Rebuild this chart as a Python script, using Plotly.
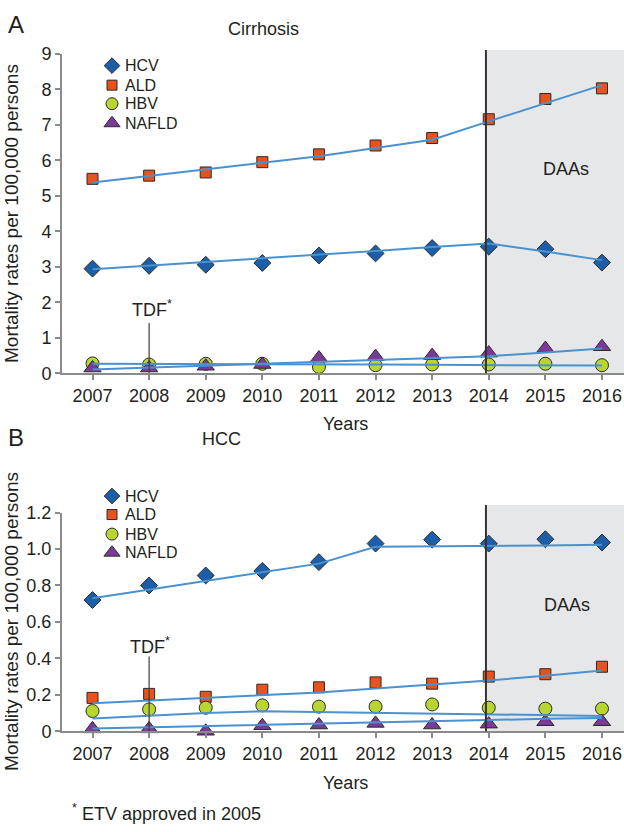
import plotly.graph_objects as go

years = [2007, 2008, 2009, 2010, 2011, 2012, 2013, 2014, 2015, 2016]
series_names = ["HCV", "ALD", "HBV", "NAFLD"]

# Panel A: Cirrhosis (observed rates)
cirr_hcv = [2.95, 3.03, 3.06, 3.11, 3.32, 3.38, 3.53, 3.57, 3.50, 3.12]
cirr_ald = [5.48, 5.57, 5.66, 5.95, 6.17, 6.42, 6.63, 7.16, 7.73, 8.03]
cirr_hbv = [0.28, 0.25, 0.27, 0.27, 0.18, 0.23, 0.25, 0.25, 0.27, 0.23]
cirr_nafld = [0.15, 0.15, 0.20, 0.25, 0.43, 0.47, 0.50, 0.57, 0.70, 0.75]
# Panel A: fitted trend lines
cirr_hcv_trend = [2.93, 3.03, 3.14, 3.24, 3.35, 3.45, 3.56, 3.66, 3.43, 3.19]
cirr_ald_trend = [5.38, 5.57, 5.76, 5.95, 6.12, 6.35, 6.58, 7.10, 7.62, 8.12]
cirr_hbv_trend = [0.27, 0.27, 0.26, 0.26, 0.25, 0.25, 0.24, 0.23, 0.23, 0.22]
cirr_nafld_trend = [0.11, 0.16, 0.21, 0.26, 0.31, 0.36, 0.41, 0.48, 0.59, 0.70]

# Panel B: HCC (observed rates)
hcc_hcv = [0.72, 0.80, 0.855, 0.88, 0.928, 1.03, 1.052, 1.03, 1.054, 1.036]
hcc_ald = [0.183, 0.205, 0.189, 0.228, 0.241, 0.268, 0.261, 0.30, 0.313, 0.354]
hcc_hbv = [0.111, 0.12, 0.129, 0.142, 0.135, 0.135, 0.147, 0.129, 0.124, 0.124]
hcc_nafld = [0.013, 0.013, 0.0, 0.03, 0.034, 0.043, 0.034, 0.039, 0.052, 0.052]
# Panel B: fitted trend lines
hcc_hcv_trend = [0.73, 0.778, 0.826, 0.874, 0.92, 1.012, 1.014, 1.017, 1.02, 1.024]
hcc_ald_trend = [0.153, 0.168, 0.183, 0.198, 0.213, 0.234, 0.255, 0.279, 0.305, 0.333]
hcc_hbv_trend = [0.07, 0.085, 0.10, 0.11, 0.105, 0.10, 0.096, 0.09, 0.087, 0.084]
hcc_nafld_trend = [0.015, 0.022, 0.029, 0.036, 0.043, 0.05, 0.057, 0.063, 0.068, 0.073]

daa_year = 2014
tdf_year = 2008

W, H = 624, 832
FONT = "Liberation Sans, Arial, sans-serif"
symbols = ["diamond", "square", "circle", "triangle-up"]
fills = ["#1c5ea8", "#e8521c", "#b9d52f", "#7b3a98"]
sizes = [13, 11, 13, 15]
leg_sizes = [12, 10, 12, 14]
LINE_C = "#4a92cf"
OUTLINE = dict(color="#2b2b2b", width=1)

fig = go.Figure()

panels = [
    ("x", "y", [cirr_hcv, cirr_ald, cirr_hbv, cirr_nafld],
     [cirr_hcv_trend, cirr_ald_trend, cirr_hbv_trend, cirr_nafld_trend]),
    ("x2", "y2", [hcc_hcv, hcc_ald, hcc_hbv, hcc_nafld],
     [hcc_hcv_trend, hcc_ald_trend, hcc_hbv_trend, hcc_nafld_trend]),
]

for xa, ya, obs, trends in panels:
    for i, name in enumerate(series_names):
        fig.add_trace(go.Scatter(
            x=years, y=obs[i], mode="markers", name=name, showlegend=False,
            xaxis=xa, yaxis=ya, cliponaxis=False,
            marker=dict(symbol=symbols[i], size=sizes[i], color=fills[i], line=OUTLINE),
        ))
    for i, name in enumerate(series_names):
        fig.add_trace(go.Scatter(
            x=years, y=trends[i], mode="lines", showlegend=False,
            xaxis=xa, yaxis=ya, line=dict(color=LINE_C, width=2),
        ))

# Legend swatches on an invisible pixel-space overlay axis
legend_rows = {"A": [57, 77, 96, 116], "B": [498, 517, 537, 556]}
for rows in legend_rows.values():
    for i, name in enumerate(series_names):
        fig.add_trace(go.Scatter(
            x=[112], y=[rows[i]], mode="markers", showlegend=False,
            xaxis="x3", yaxis="y3", cliponaxis=False, hoverinfo="skip",
            marker=dict(symbol=symbols[i], size=leg_sizes[i], color=fills[i], line=OUTLINE),
        ))

xr = [2006.461, 2016.389]
xdom = [62 / W, 1.0]
ydomA = [1 - 372.3 / H, 1 - 45 / H]
ydomB = [1 - 739 / H, 1 - 515 / H]

axis_common = dict(
    showline=True, linecolor="#8a8a8a", linewidth=2, ticks="outside",
    ticklen=5, tickwidth=1.5, tickcolor="#8a8a8a", showgrid=False,
    zeroline=False, tickfont=dict(size=18, color="#231f20", family=FONT),
)

fig.update_layout(
    width=W, height=H, margin=dict(l=0, r=0, t=0, b=0),
    paper_bgcolor="white", plot_bgcolor="rgba(0,0,0,0)",
    font=dict(family=FONT, color="#231f20"), showlegend=False,
    xaxis=dict(domain=xdom, range=xr, tickvals=years, anchor="y", **axis_common),
    yaxis=dict(domain=ydomA, range=[0, 9], tickvals=list(range(0, 10)), anchor="x",
               **axis_common),
    xaxis2=dict(domain=xdom, range=xr, tickvals=years, anchor="y2", **axis_common),
    yaxis2=dict(domain=ydomB, range=[0, 1.2], tickvals=[0, 0.2, 0.4, 0.6, 0.8, 1.0, 1.2],
                ticktext=["0", "0.2", "0.4", "0.6", "0.8", "1.0", "1.2"], anchor="x2",
                **axis_common),
    xaxis3=dict(domain=[0, 1], range=[0, W], visible=False, anchor="y3", fixedrange=True),
    yaxis3=dict(domain=[0, 1], range=[H, 0], visible=False, anchor="x3", fixedrange=True),
)

shapes = []
for xa, ya, top in [("x", "y", 1.012), ("x2", "y2", 1.035)]:
    shapes.append(dict(type="rect", xref=xa, yref=ya + " domain",
                       x0=daa_year - 0.05, x1=xr[1], y0=0, y1=top,
                       fillcolor="#e6e7e9", line=dict(width=0), layer="below"))
    shapes.append(dict(type="line", xref=xa, yref=ya + " domain",
                       x0=daa_year - 0.05, x1=daa_year - 0.05, y0=0, y1=top,
                       line=dict(color="#333333", width=2), layer="above"))
shapes.append(dict(type="line", xref="x", yref="y", x0=tdf_year, x1=tdf_year,
                   y0=0, y1=1.42, line=dict(color="#4a3a35", width=1.2)))
shapes.append(dict(type="line", xref="x2", yref="y2", x0=tdf_year, x1=tdf_year,
                   y0=0, y1=0.41, line=dict(color="#4a3a35", width=1.2)))
fig.update_layout(shapes=shapes)

def ann(text, x, y, size=18, xanchor="center"):
    return dict(text=text, x=x / W, y=1 - y / H, xref="paper", yref="paper",
                showarrow=False, xanchor=xanchor, yanchor="middle",
                font=dict(size=size, family=FONT, color="#231f20"))

annotations = [
    ann("A", 16, 15, size=24),
    ann("Cirrhosis", 263, 19, size=18),
    ann("B", 16, 438, size=24),
    ann("HCC", 221, 440, size=18),
    ann("Years", 345, 424, size=18),
    ann("Years", 345, 792, size=18),
    ann("DAAs", 566, 163, size=18),
    ann("DAAs", 567, 610, size=18),
    ann("TDF<sup>*</sup>", 152, 306, size=18),
    ann("TDF<sup>*</sup>", 150, 651, size=18),
    ann("<sup>*</sup> ETV approved in 2005", 70, 822, size=18, xanchor="left"),
]
for rows in legend_rows.values():
    for i, name in enumerate(series_names):
        annotations.append(ann(name, 123, rows[i], size=16, xanchor="left"))
for yc in [209, 627]:
    a = ann("Mortality rates per 100,000 persons", 12, yc, size=19)
    a["textangle"] = -90
    annotations.append(a)
fig.update_layout(annotations=annotations)

fig.write_html("out.html", config={"displayModeBar": False},
               post_script="document.body.style.margin='0px';")
